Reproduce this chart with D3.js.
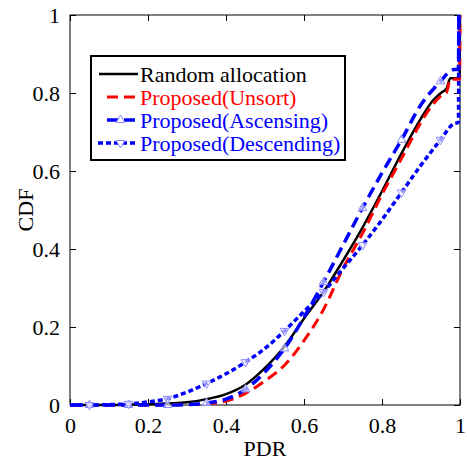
<!DOCTYPE html>
<html>
<head>
<meta charset="utf-8">
<script src="https://cdn.jsdelivr.net/npm/d3@7"></script>
<style>
  body { margin: 0; background: #fff; }
  text { font-family: "Liberation Serif", "Times New Roman", serif; }
</style>
</head>
<body>
<div id="chart"></div>
<script>
// values
const randomX = [0, 0.1, 0.2, 0.3, 0.35, 0.4, 0.45, 0.5, 0.55, 0.6, 0.65, 0.7, 0.75, 0.8, 0.85, 0.9, 0.93, 0.955, 0.965, 0.975, 0.999, 1.0]
const randomY = [0, 0, 0.002, 0.007, 0.015, 0.028, 0.052, 0.095, 0.15, 0.222, 0.29, 0.37, 0.455, 0.548, 0.645, 0.735, 0.78, 0.803, 0.81, 0.838, 0.838, 1.0]

const unsortX = [0, 0.2, 0.3, 0.35, 0.4, 0.45, 0.5, 0.55, 0.6, 0.65, 0.7, 0.75, 0.8, 0.85, 0.9, 0.93, 0.955, 0.965, 0.975, 0.999, 1.0]
const unsortY = [0, 0, 0.001, 0.003, 0.01, 0.03, 0.062, 0.102, 0.165, 0.245, 0.35, 0.44, 0.54, 0.632, 0.725, 0.77, 0.795, 0.8, 0.835, 0.835, 1.0]

const ascX = [0, 0.25, 0.3, 0.35, 0.4, 0.45, 0.5, 0.55, 0.6, 0.65, 0.7, 0.75, 0.8, 0.85, 0.9, 0.95, 0.97, 0.985, 0.996, 0.997]
const ascY = [0, 0, 0.001, 0.005, 0.015, 0.04, 0.085, 0.145, 0.225, 0.315, 0.41, 0.505, 0.595, 0.68, 0.77, 0.83, 0.852, 0.86, 0.86, 1.0]

const descX = [0, 0.05, 0.1, 0.15, 0.2, 0.25, 0.3, 0.35, 0.4, 0.45, 0.5, 0.55, 0.6, 0.65, 0.7, 0.75, 0.8, 0.85, 0.9, 0.95, 0.982, 0.996, 0.997]
const descY = [0, 0, 0.001, 0.003, 0.008, 0.016, 0.033, 0.055, 0.08, 0.11, 0.145, 0.19, 0.24, 0.29, 0.35, 0.41, 0.475, 0.545, 0.615, 0.68, 0.72, 0.725, 1.0]

// marker positions on the two blue curves
const markerX = [0.05, 0.15, 0.25, 0.35, 0.45, 0.55, 0.65, 0.75, 0.85, 0.95]
const ascMarkY = [0, 0, 0, 0.005, 0.04, 0.145, 0.315, 0.505, 0.68, 0.83]
const descMarkY = [0, 0.003, 0.016, 0.055, 0.11, 0.19, 0.29, 0.41, 0.545, 0.68]

const xTicks = [0, 0.2, 0.4, 0.6, 0.8, 1]
const yTicks = [0, 0.2, 0.4, 0.6, 0.8, 1]

const legendNames = ["Random allocation", "Proposed(Unsort)", "Proposed(Ascensing)", "Proposed(Descending)"]

const width = 467, height = 461
const margin = {left: 70, right: 7, top: 15, bottom: 56}

const svg = d3.select("#chart").append("svg")
    .attr("width", width)
    .attr("height", height)

const x = d3.scaleLinear().domain([0, 1]).range([margin.left, width - margin.right])
const y = d3.scaleLinear().domain([0, 1]).range([height - margin.bottom, margin.top])

// axes, ticks pointing inward on all four sides
const fmt = d => d3.format("")(d)
svg.append("g")
    .attr("transform", "translate(0," + y(0) + ")")
    .call(d3.axisBottom(x).tickValues(xTicks).tickSizeInner(-6).tickSizeOuter(0).tickPadding(12).tickFormat(fmt))
svg.append("g")
    .attr("transform", "translate(0," + y(1) + ")")
    .call(d3.axisTop(x).tickValues(xTicks).tickSizeInner(-6).tickSizeOuter(0).tickFormat(""))
svg.append("g")
    .attr("transform", "translate(" + x(0) + ",0)")
    .call(d3.axisLeft(y).tickValues(yTicks).tickSizeInner(-6).tickSizeOuter(0).tickPadding(10).tickFormat(fmt))
svg.append("g")
    .attr("transform", "translate(" + x(1) + ",0)")
    .call(d3.axisRight(y).tickValues(yTicks).tickSizeInner(-6).tickSizeOuter(0).tickFormat(""))

svg.selectAll(".domain").remove()
svg.selectAll(".tick line").attr("stroke", "#000")
svg.selectAll(".tick text")
    .style("font-family", "'Liberation Serif', serif")
    .style("font-size", "22px")
    .attr("fill", "#000")

svg.append("rect")
    .attr("x", x(0)).attr("y", y(1))
    .attr("width", x(1) - x(0)).attr("height", y(0) - y(1))
    .attr("fill", "none").attr("stroke", "#000").attr("stroke-width", 1)

// axis titles
svg.append("text")
    .attr("x", (x(0) + x(1)) / 2).attr("y", 456)
    .attr("text-anchor", "middle")
    .style("font-size", "22px")
    .text("PDR")
svg.append("text")
    .attr("transform", "translate(33," + (y(0) + y(1)) / 2 + ") rotate(-90)")
    .attr("text-anchor", "middle")
    .style("font-size", "22px")
    .text("CDF")

// curves
const line = d3.line()
    .x(d => x(d[0]))
    .y(d => y(d[1]))
    .curve(d3.curveMonotoneX)

const series = [
    {xs: randomX, ys: randomY, color: "#000", width: 2.5, dash: null},
    {xs: unsortX, ys: unsortY, color: "#ff0000", width: 3, dash: "11,6"},
    {xs: ascX, ys: ascY, color: "#0000ff", width: 3.5, dash: "11,6"},
    {xs: descX, ys: descY, color: "#0000ff", width: 3.5, dash: "5,3"}
]

const plot = svg.append("g")
plot.selectAll("path.curve")
    .data(series)
    .enter()
    .append("path")
    .attr("class", "curve")
    .attr("d", s => line(s.xs.map((v, i) => [v, s.ys[i]])))
    .attr("fill", "none")
    .attr("stroke", s => s.color)
    .attr("stroke-width", s => s.width)
    .attr("stroke-dasharray", s => s.dash)

// triangle markers
const tri = d3.symbol().type(d3.symbolTriangle).size(32)
function drawMarkers(ys, flip) {
    plot.append("g")
        .selectAll("path")
        .data(markerX.map((v, i) => [v, ys[i]]))
        .enter()
        .append("path")
        .attr("d", tri)
        .attr("transform", d => "translate(" + x(d[0]) + "," + y(d[1]) + ")" + (flip ? " rotate(180)" : ""))
        .attr("fill", "#fff")
        .attr("fill-opacity", 0.6)
        .attr("stroke", "#8a8aff")
        .attr("stroke-width", 1)
}
drawMarkers(ascMarkY, false)
drawMarkers(descMarkY, true)

// legend
const legend = svg.append("g")
legend.append("rect")
    .attr("x", 91).attr("y", 56)
    .attr("width", 254).attr("height", 104)
    .attr("fill", "#fff").attr("stroke", "#000").attr("stroke-width", 2)

const legendColors = ["#000", "#ff0000", "#0000ff", "#0000ff"]
const legendStart = [99, 107, 107, 98]
legendNames.forEach((name, i) => {
    const ly = 74 + i * 23
    const s = series[i]
    legend.append("line")
        .attr("x1", legendStart[i]).attr("x2", i == 1 || i == 2 ? 135 : 138)
        .attr("y1", ly).attr("y2", ly)
        .attr("stroke", s.color)
        .attr("stroke-width", s.width)
        .attr("stroke-dasharray", s.dash)
    if (i >= 2) {
        legend.append("path")
            .attr("d", tri)
            .attr("transform", "translate(120.5," + ly + ")" + (i == 3 ? " rotate(180)" : ""))
            .attr("fill", "#fff")
            .attr("stroke", "#8a8aff")
            .attr("stroke-width", 1)
    }
    legend.append("text")
        .attr("x", 140).attr("y", ly)
        .attr("dominant-baseline", "central")
        .style("font-size", "22px")
        .attr("fill", legendColors[i])
        .text(name)
})
</script>
</body>
</html>
